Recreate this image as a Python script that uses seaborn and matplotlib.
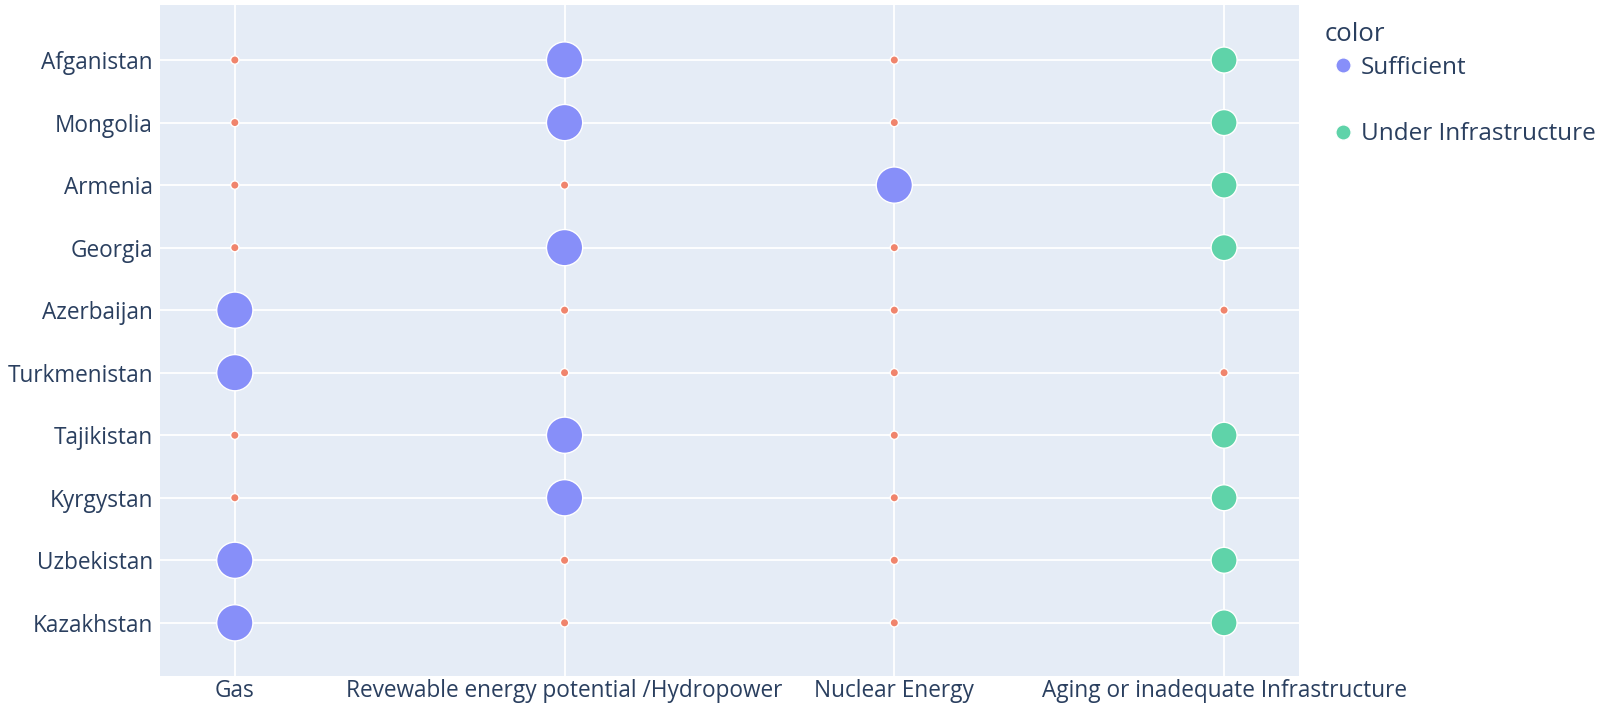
import pandas as pd
import matplotlib.pyplot as plt
import seaborn as sns
from matplotlib.lines import Line2D

# countries listed bottom -> top
countries = ["Kazakhstan", "Uzbekistan", "Kyrgystan", "Tajikistan", "Turkmenistan",
             "Azerbaijan", "Georgia", "Armenia", "Mongolia", "Afganistan"]
sources = ["Gas", "Revewable energy potential /Hydropower", "Nuclear Energy",
           "Aging or inadequate Infrastructure"]

S = "Sufficient"
U = "Under Infrastructure"
N = "Insufficient"

gas = [S, S, N, N, S, S, N, N, N, N]
hydro = [N, N, S, S, N, N, S, N, S, S]
nuclear = [N, N, N, N, N, N, N, S, N, N]
infra = [U, U, U, U, N, N, U, U, U, U]

status = {sources[0]: gas, sources[1]: hydro, sources[2]: nuclear, sources[3]: infra}

rows = []
for src in sources:
    for c, st in zip(countries, status[src]):
        rows.append({"source": src, "country": c, "color": st})
df = pd.DataFrame(rows)

palette = {S: "#878FF9", U: "#5FD3A9", N: "#F0846C"}
sizes = {S: 680, U: 350, N: 36}

sns.set_theme(style="darkgrid", rc={"axes.facecolor": "#E5ECF6",
                                    "grid.color": "white", "grid.linewidth": 1.3})
plt.rcParams['font.family'] = ['Open Sans', 'DejaVu Sans']

fig = plt.figure(figsize=(16.19, 7.04), dpi=100)
ax = fig.add_axes([0.0988, 0.0398, 0.7035, 0.9531])

sns.scatterplot(data=df, x="source", y="country", hue="color", size="color",
                palette=palette, sizes=sizes, edgecolor="white", linewidth=1,
                legend=False, ax=ax, zorder=3)

ax.set_xlim(-0.227, 3.227)
ax.set_ylim(-0.85, 9.88)
ax.set_xlabel("")
ax.set_ylabel("")
for sp in ax.spines.values():
    sp.set_visible(False)
ax.tick_params(axis="both", length=0, labelsize=16.3, labelcolor="#2a3f5f")
ax.tick_params(axis="x", pad=2)
ax.tick_params(axis="y", pad=5)

handles = [Line2D([], [], marker="o", linestyle="", markersize=11,
                  markerfacecolor=palette[S], markeredgecolor="white", label=S),
           Line2D([], [], marker="o", linestyle="", markersize=11,
                  markerfacecolor=palette[U], markeredgecolor="white", label=U)]
leg = fig.legend(handles=handles, loc="upper left",
                 bbox_to_anchor=(0.822, 0.921), frameon=False,
                 fontsize=17.5, labelspacing=1.75, handlelength=1.0,
                 handletextpad=0.25, borderpad=0, borderaxespad=0)
for t in leg.get_texts():
    t.set_color("#2a3f5f")
fig.text(0.818, 0.951, "color", fontsize=18.5, color="#2a3f5f", va="center", ha="left")

fig.savefig("out.png", dpi=100)
